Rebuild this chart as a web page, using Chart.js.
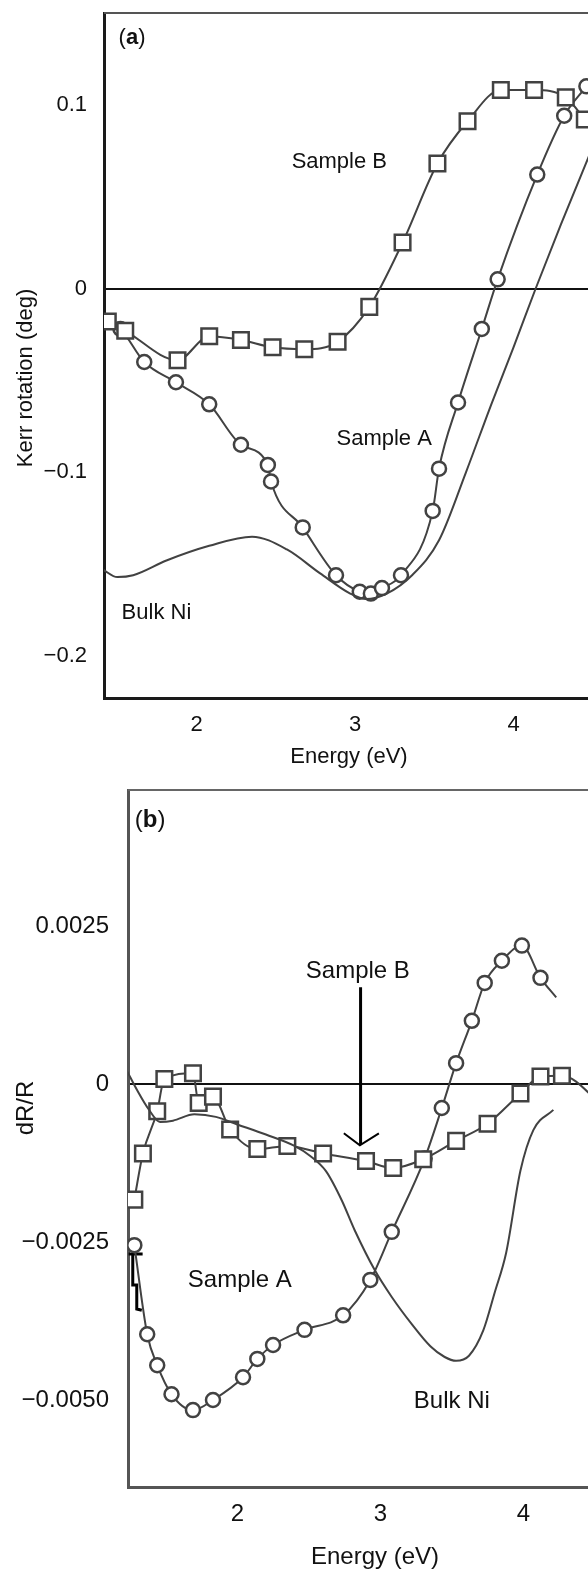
<!DOCTYPE html>
<html>
<head>
<meta charset="utf-8">
<script src="https://cdn.jsdelivr.net/npm/chart.js@4.4.0/dist/chart.umd.min.js"></script>
<style>
  html, body { margin: 0; padding: 0; background: #fff; overflow: hidden; }
  #wrap { position: relative; width: 588px; height: 1569px; overflow: hidden; }
  #chartA { position: absolute; left: 0; top: 0; }
  #chartB { position: absolute; left: 0; top: 780px; }
</style>
</head>
<body>
<div id="wrap">
  <canvas id="chartA" width="594" height="780"></canvas>
  <canvas id="chartB" width="622" height="789"></canvas>
</div>
<script>
var FONT = '"Liberation Sans", Arial, Helvetica, sans-serif';
var GREY = "#424242";

// (a) Kerr rotation vs energy
var kerrTicksX = [2, 3, 4];
var kerrTicksY = [0.1, 0, -0.1, -0.2];
var kerrTickLabelsY = ["0.1", "0", "\u22120.1", "\u22120.2"];
var kerrSampleA = [
  [1.43, -0.018], [1.52, -0.022], [1.67, -0.040], [1.87, -0.051], [2.08, -0.063],
  [2.28, -0.085], [2.45, -0.096], [2.47, -0.105], [2.67, -0.130], [2.88, -0.156],
  [3.03, -0.165], [3.10, -0.166], [3.17, -0.163], [3.29, -0.156], [3.49, -0.121],
  [3.53, -0.098], [3.65, -0.062], [3.80, -0.022], [3.90, 0.005], [4.15, 0.062],
  [4.32, 0.094], [4.46, 0.110]
];
var kerrSampleB = [
  [1.44, -0.018], [1.55, -0.023], [1.88, -0.039], [2.08, -0.026], [2.28, -0.028],
  [2.48, -0.032], [2.68, -0.033], [2.89, -0.029], [3.09, -0.010], [3.30, 0.025],
  [3.52, 0.068], [3.71, 0.091], [3.92, 0.108], [4.13, 0.108], [4.33, 0.104],
  [4.45, 0.092]
];
var kerrBulkNi = [
  [1.41, -0.153], [1.50, -0.157], [1.60, -0.156], [1.81, -0.148], [2.08, -0.140],
  [2.35, -0.135], [2.57, -0.142], [2.78, -0.155], [2.97, -0.166], [3.07, -0.169],
  [3.20, -0.166], [3.36, -0.156], [3.53, -0.137], [3.70, -0.100], [3.86, -0.063],
  [4.00, -0.032], [4.14, 0.0], [4.30, 0.035], [4.50, 0.077]
];

// (b) dR/R vs energy
var reflTicksX = [2, 3, 4];
var reflTicksY = [0.0025, 0, -0.0025, -0.005];
var reflTickLabelsY = ["0.0025", "0", "\u22120.0025", "\u22120.0050"];
var reflSampleA = [
  [1.28, -0.00255], [1.37, -0.00396], [1.44, -0.00445], [1.54, -0.00491], [1.69, -0.00516],
  [1.83, -0.00500], [2.04, -0.00464], [2.14, -0.00435], [2.25, -0.00413], [2.47, -0.00389],
  [2.74, -0.00366], [2.93, -0.00310], [3.08, -0.00234], [3.31, -0.00118], [3.43, -0.00038],
  [3.53, 0.00033], [3.64, 0.00100], [3.73, 0.00160], [3.85, 0.00195], [3.99, 0.00219],
  [4.12, 0.00168], [4.23, 0.00137]
];
var reflSampleB = [
  [1.28, -0.00183], [1.34, -0.00110], [1.44, -0.00043], [1.49, 0.00008], [1.69, 0.00017],
  [1.73, -0.00030], [1.83, -0.00020], [1.95, -0.00072], [2.14, -0.00103], [2.35, -0.00098],
  [2.60, -0.00110], [2.90, -0.00122], [3.09, -0.00133], [3.30, -0.00119], [3.53, -0.00090],
  [3.75, -0.00063], [3.98, -0.00015], [4.12, 0.00012], [4.27, 0.00013], [4.56, -0.00035]
];
var reflBulkNi = [
  [1.23, 0.00020], [1.30, -0.00010], [1.38, -0.00040], [1.46, -0.00060], [1.55, -0.00058],
  [1.70, -0.00048], [1.85, -0.00052], [2.00, -0.00064], [2.20, -0.00080], [2.40, -0.00098],
  [2.51, -0.00114], [2.62, -0.00138], [2.73, -0.00184], [2.82, -0.00231], [2.96, -0.00294],
  [3.08, -0.00337], [3.22, -0.00380], [3.35, -0.00415], [3.45, -0.00432], [3.53, -0.00438],
  [3.62, -0.00430], [3.72, -0.00390], [3.80, -0.00330], [3.88, -0.00267], [3.98, -0.00137],
  [4.07, -0.00073], [4.21, -0.00041]
];
// arrow under "Sample B" and the black bracket near the left axis
var reflArrowShaft = [[2.862, 0.00153], [2.862, -0.00095]];
var reflArrowHead = [[2.745, -0.00078], [2.857, -0.00097], [2.99, -0.00078]];
var reflBracketTop = [[1.240, -0.00269], [1.338, -0.00269]];
var reflBracketStep = [[1.269, -0.00269], [1.269, -0.00318], [1.297, -0.00318], [1.297, -0.00356], [1.332, -0.00358]];

function toPoints(pairs) {
  return pairs.map(function (p) { return { x: p[0], y: p[1] }; });
}

function markerSeries(label, pairs, style, radius, bareLast) {
  return {
    label: label,
    data: toPoints(pairs),
    borderColor: GREY,
    borderWidth: 2,
    pointStyle: style,
    pointRadius: function (c) {
      return bareLast && c.dataIndex === pairs.length - 1 ? 0 : radius;
    },
    pointBorderWidth: 2.5,
    pointBorderColor: GREY,
    pointBackgroundColor: "#fff",
    cubicInterpolationMode: "monotone",
    fill: false
  };
}

function plainLine(label, pairs, color, width, smooth) {
  return {
    label: label,
    data: toPoints(pairs),
    borderColor: color,
    borderWidth: width,
    pointRadius: 0,
    tension: 0,
    cubicInterpolationMode: smooth ? "monotone" : "default",
    fill: false
  };
}

// text annotations, panel tag, axis titles and top frame line
function notesPlugin(p) {
  return {
    id: "notes",
    afterDraw: function (chart) {
      var ctx = chart.ctx, sx = chart.scales.x, sy = chart.scales.y, area = chart.chartArea;
      var font = p.fontSize + "px " + FONT;
      ctx.save();
      ctx.strokeStyle = p.frame;
      ctx.lineWidth = 2;
      ctx.beginPath();
      ctx.moveTo(area.left, area.top);
      ctx.lineTo(area.right, area.top);
      ctx.stroke();

      ctx.fillStyle = "#111";
      ctx.textBaseline = "alphabetic";
      ctx.textAlign = "left";
      ctx.font = font;
      p.notes.forEach(function (n) {
        ctx.fillText(n.text, sx.getPixelForValue(n.at[0]), sy.getPixelForValue(n.at[1]));
      });

      // "(a)" with a bold letter
      var tx = sx.getPixelForValue(p.tag.at[0]), ty = sy.getPixelForValue(p.tag.at[1]);
      ctx.fillText("(", tx, ty);
      tx += ctx.measureText("(").width;
      ctx.font = "bold " + font;
      ctx.fillText(p.tag.letter, tx, ty);
      tx += ctx.measureText(p.tag.letter).width;
      ctx.font = font;
      ctx.fillText(")", tx, ty);

      ctx.textAlign = "center";
      ctx.fillText(p.xTitle, (area.left + area.right) / 2, p.xTitleY);
      ctx.translate(p.yTitleX, p.yTitleY);
      ctx.rotate(-Math.PI / 2);
      ctx.fillText(p.yTitle, 0, 0);
      ctx.restore();
    }
  };
}

function makePanel(id, datasets, s) {
  return new Chart(document.getElementById(id), {
    type: "line",
    data: { datasets: datasets },
    plugins: [notesPlugin(s)],
    options: {
      responsive: false,
      animation: false,
      devicePixelRatio: 1,
      layout: { autoPadding: false, padding: { top: s.padTop, right: 0, bottom: 0, left: 0 } },
      plugins: { legend: { display: false }, tooltip: { enabled: false } },
      scales: {
        x: {
          type: "linear",
          min: s.xMin,
          max: s.xMax,
          afterBuildTicks: function (sc) { sc.ticks = s.ticksX.map(function (v) { return { value: v }; }); },
          afterFit: function (sc) { sc.height = s.xAxisHeight; sc.paddingLeft = 0; sc.paddingRight = 0; },
          grid: { display: false, drawTicks: false },
          border: { display: true, color: s.axisColor, width: 3 },
          ticks: {
            padding: s.xTickPad,
            color: "#111",
            font: { family: FONT, size: s.fontSize },
            callback: function (v) { return String(v); }
          }
        },
        y: {
          type: "linear",
          min: s.yMin,
          max: s.yMax,
          afterBuildTicks: function (sc) { sc.ticks = s.ticksY.map(function (v) { return { value: v }; }); },
          afterFit: function (sc) { sc.width = s.yAxisWidth; sc.paddingTop = 0; sc.paddingBottom = 0; },
          grid: {
            display: true,
            drawTicks: false,
            lineWidth: 2,
            color: function (c) { return c.tick && c.tick.value === 0 ? "#111" : "rgba(0,0,0,0)"; }
          },
          border: { display: true, color: s.axisColor, width: 3 },
          ticks: {
            padding: s.yTickPad,
            color: "#111",
            font: { family: FONT, size: s.fontSize },
            callback: function (v) { return s.labelsY[s.ticksY.indexOf(v)]; }
          }
        }
      }
    }
  });
}

makePanel("chartA", [
  plainLine("Bulk Ni", kerrBulkNi, GREY, 2, true),
  markerSeries("Sample B", kerrSampleB, "rect", 11, false),
  markerSeries("Sample A", kerrSampleA, "circle", 7, false)
], {
  xMin: 1.416, xMax: 4.508, yMin: -0.2228, yMax: 0.1499,
  ticksX: kerrTicksX, ticksY: kerrTicksY, labelsY: kerrTickLabelsY,
  padTop: 13, xAxisHeight: 82, yAxisWidth: 104, axisColor: "#1a1a1a", frame: "#555",
  fontSize: 22, xTickPad: 14, yTickPad: 17,
  notes: [
    { text: "Sample B", at: [2.60, 0.0656] },
    { text: "Sample A", at: [2.883, -0.0852] },
    { text: "Bulk Ni", at: [1.527, -0.1798] }
  ],
  tag: { letter: "a", at: [1.508, 0.1328] },
  xTitle: "Energy (eV)", xTitleY: 763,
  yTitle: "Kerr rotation (deg)", yTitleX: 32, yTitleY: 378
});

makePanel("chartB", [
  plainLine("Bulk Ni", reflBulkNi, GREY, 2, true),
  markerSeries("Sample B", reflSampleB, "rect", 11, false),
  markerSeries("Sample A", reflSampleA, "circle", 7, true),
  plainLine("arrow", reflArrowShaft, "#000", 3, false),
  plainLine("arrow head", reflArrowHead, "#000", 2, false),
  plainLine("bracket", reflBracketTop, "#000", 3, false),
  plainLine("bracket step", reflBracketStep, "#000", 3, false)
], {
  xMin: 1.2357, xMax: 4.690, yMin: -0.006377, yMax: 0.004652,
  ticksX: reflTicksX, ticksY: reflTicksY, labelsY: reflTickLabelsY,
  padTop: 10, xAxisHeight: 82, yAxisWidth: 128, axisColor: "#555", frame: "#666",
  fontSize: 24, xTickPad: 13, yTickPad: 19,
  notes: [
    { text: "Sample B", at: [2.479, 0.00168] },
    { text: "Sample A", at: [1.654, -0.00321] },
    { text: "Bulk Ni", at: [3.234, -0.00512] }
  ],
  tag: { letter: "b", at: [1.283, 0.00407] },
  xTitle: "Energy (eV)", xTitleY: 784,
  yTitle: "dR/R", yTitleX: 33, yTitleY: 328
});
</script>
</body>
</html>
